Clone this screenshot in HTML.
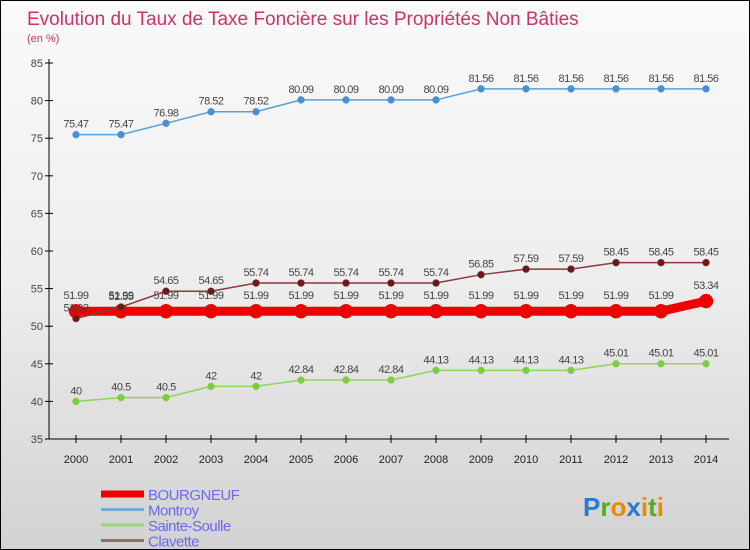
<!DOCTYPE html>
<html><head><meta charset="utf-8"><style>
body{margin:0}
#wrap{width:748px;height:548px;border:1px solid #000;position:relative;overflow:hidden;background:linear-gradient(#fafafa 0%,#eeeeee 50%,#d2d2d2 100%);font-family:"Liberation Sans",sans-serif}
svg{position:absolute;left:0;top:0}
</style></head><body>
<div id="wrap">
<svg id="c" width="748" height="548"></svg>
</div>
<script>
const years=[2000,2001,2002,2003,2004,2005,2006,2007,2008,2009,2010,2011,2012,2013,2014];
const bourgneuf=[51.99,51.99,51.99,51.99,51.99,51.99,51.99,51.99,51.99,51.99,51.99,51.99,51.99,51.99,53.34];
const montroy=[75.47,75.47,76.98,78.52,78.52,80.09,80.09,80.09,80.09,81.56,81.56,81.56,81.56,81.56,81.56];
const sainteSoulle=[40,40.5,40.5,42,42,42.84,42.84,42.84,44.13,44.13,44.13,44.13,45.01,45.01,45.01];
const clavette=[51.02,52.55,54.65,54.65,55.74,55.74,55.74,55.74,55.74,56.85,57.59,57.59,58.45,58.45,58.45];
const yTicks=[35,40,45,50,55,60,65,70,75,80,85];
const NS="http://www.w3.org/2000/svg";
const svg=document.getElementById('c');
const x=i=>75+i*45;
const y=v=>438-(v-35)*7.52;
function el(t,a,txt){const e=document.createElementNS(NS,t);for(const k in a)e.setAttribute(k,a[k]);if(txt!==undefined)e.textContent=txt;svg.appendChild(e);return e;}
let t=el('text',{x:26,y:24,fill:'#cc3366','font-size':19},'Evolution du Taux de Taxe Foncière sur les Propriétés Non Bâties');

t=el('text',{x:26,y:41,fill:'#cc3366','font-size':11},'(en %)');

let a=el('line',{x1:48,y1:58,x2:48,y2:438,stroke:'#000'});

a=el('line',{x1:48,y1:438,x2:728,y2:438,stroke:'#000'});

yTicks.forEach(v=>{el('line',{x1:44,y1:y(v),x2:52,y2:y(v),stroke:'#000'});
 const l=el('text',{x:42,y:y(v)+4,'text-anchor':'end','font-size':11,fill:'#444'},v);
 });
years.forEach((yr,i)=>{el('line',{x1:x(i),y1:434,x2:x(i),y2:442,stroke:'#000'});
 const l=el('text',{x:x(i),y:462,'text-anchor':'middle','font-size':11,fill:'#222'},yr);
 });
function series(vals,color,dot,w,r,name,labOff){
 const p=el('polyline',{points:vals.map((v,i)=>x(i)+','+y(v)).join(' '),fill:'none',stroke:color,'stroke-width':w});
 
 vals.forEach((v,i)=>{const c=el('circle',{cx:x(i),cy:y(v),r:r,fill:dot,stroke:color,'stroke-width':0.5});
  
  const l=el('text',{x:x(i),y:y(v)+labOff,'text-anchor':'middle','font-size':11,fill:'#444','letter-spacing':'-0.5'},v);
  });
}
series(montroy,'#5a9fd4','#4a90d0',1.5,3.5,'montroy',-7);
series(sainteSoulle,'#8fd45a','#7ccc44',1.5,3.5,'sainte-soulle',-7);
series(bourgneuf,'#ee0000','#ee0000',9,7,'bourgneuf',-12);
series(clavette,'#8a3a3a','#6a1a1a',1.5,3.5,'clavette',-7);
const leg=[['BOURGNEUF','#ee0000',7],['Montroy','#7aaad0',3],['Sainte-Soulle','#9ad47a',3],['Clavette','#9a6a6a',3]];
leg.forEach((g,i)=>{const yy=493+i*15.5;
 const s=el('line',{x1:100,y1:yy,x2:143,y2:yy,stroke:g[1],'stroke-width':g[2]});
 
 const l=el('text',{x:147,y:yy+6,'font-size':15,fill:'#6a6af0','letter-spacing':'-0.5'},g[0]);
 });
const lg=el('text',{x:582,y:515,'font-size':26,'font-weight':'bold'},'');

[['P','#2a7ad0'],['r','#55aa22'],['o','#ee8800'],['x','#2a7ad0'],['i','#ee8800'],['t','#55aa22'],['i','#ee8800']].forEach(c=>{const s=document.createElementNS(NS,'tspan');s.setAttribute('fill',c[1]);s.textContent=c[0];lg.appendChild(s);});
</script>
</body></html>
